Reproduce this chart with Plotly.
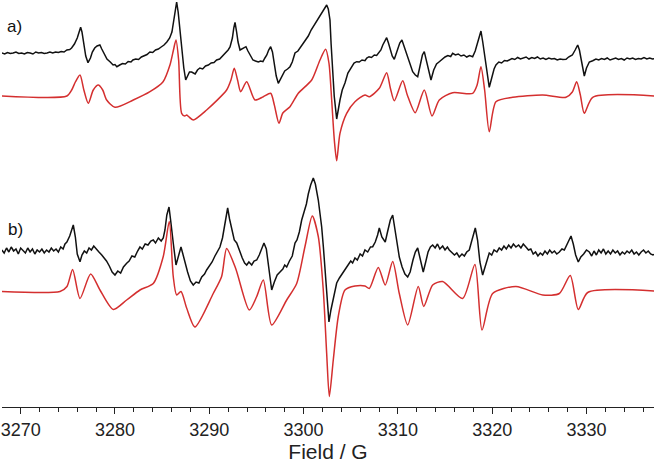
import plotly.graph_objects as go

# EPR spectra, field in G, intensity in arbitrary units (relative to each baseline)
a_exp = [
    (3268.0, 3), (3268.3, 2), (3268.6, 3.5), (3268.9, 2.5), (3269.2, 3), (3269.5, 4), (3269.8, 2.5),
    (3270.1, 3), (3270.4, 2), (3270.7, 3.5), (3271.0, 3), (3271.3, 2), (3271.6, 4), (3271.9, 3),
    (3272.2, 3.5), (3272.5, 2.5), (3272.8, 3), (3273.1, 4), (3273.4, 3), (3273.7, 4), (3274.0, 3.5),
    (3274.3, 4.5), (3274.6, 4), (3274.9, 6), (3275.2, 6.5), (3275.4, 8), (3275.7, 12), (3276.0, 18),
    (3276.2, 24), (3276.36, 28.7), (3276.5, 24), (3276.7, 11), (3276.9, 0), (3277.14, -6.7),
    (3277.4, -2), (3277.6, 4), (3277.85, 8), (3278.1, 10), (3278.4, 11), (3278.6, 7), (3278.9, 1),
    (3279.15, -3), (3279.5, -6), (3279.8, -9), (3280.0, -8.5), (3280.2, -10.7), (3280.5, -9),
    (3280.8, -7.5), (3281.1, -8), (3281.4, -5.5), (3281.7, -6), (3281.9, -4), (3282.2, -3),
    (3282.5, -3.5), (3282.8, -1), (3283.1, 0), (3283.4, 1.5), (3283.7, 4), (3284.0, 3.5), (3284.3, 6),
    (3284.6, 7), (3284.9, 9), (3285.2, 11), (3285.5, 14), (3285.8, 18), (3286.04, 24), (3286.25, 35),
    (3286.4, 46), (3286.54, 54), (3286.7, 44), (3286.85, 30), (3287.07, 6), (3287.3, -12),
    (3287.5, -24), (3287.7, -20), (3287.9, -16), (3288.13, -16), (3288.3, -17), (3288.5, -18),
    (3288.75, -14), (3289.0, -12), (3289.3, -13), (3289.6, -10), (3289.9, -9), (3290.2, -7),
    (3290.5, -6.5), (3290.78, -4), (3291.1, -3), (3291.4, 0), (3291.7, 2), (3292.0, 6), (3292.2, 9),
    (3292.45, 18), (3292.6, 28), (3292.73, 33.7), (3292.9, 24), (3293.05, 14), (3293.26, 6),
    (3293.5, 7), (3293.7, 8.5), (3293.89, 9.3), (3294.1, 5), (3294.4, -1), (3294.63, -4), (3294.9, -5),
    (3295.2, -6), (3295.45, -5), (3295.69, -5.7), (3295.9, -2), (3296.1, 1), (3296.3, 6),
    (3296.51, 9.3), (3296.7, 4), (3296.9, -9), (3297.1, -20), (3297.32, -27.3), (3297.5, -24),
    (3297.7, -19), (3298.0, -15), (3298.3, -13), (3298.56, -10.7), (3298.8, -6), (3299.09, 3),
    (3299.4, 5), (3299.7, 9), (3300.0, 13), (3300.15, 16), (3300.5, 20), (3300.8, 26), (3301.0, 29),
    (3301.21, 33), (3301.5, 37), (3301.7, 40), (3301.92, 43), (3302.2, 47), (3302.45, 51),
    (3302.62, 47), (3302.8, 36), (3302.92, 12), (3303.04, -10.7), (3303.25, -40), (3303.51, -63),
    (3303.7, -52), (3303.86, -44), (3304.1, -34), (3304.39, -27), (3304.7, -17), (3305.1, -10.7),
    (3305.35, -7), (3305.63, -5.7), (3305.9, -6), (3306.2, -4), (3306.51, -4.7), (3306.7, -2),
    (3306.94, -0.7), (3307.2, -1.5), (3307.5, 1), (3307.75, 0.5), (3308.0, 3), (3308.2, 6),
    (3308.4, 11), (3308.6, 15), (3308.81, 18.3), (3309.0, 13), (3309.2, 6), (3309.4, 0),
    (3309.62, -3.3), (3309.8, 2), (3310.0, 8), (3310.2, 13), (3310.43, 16), (3310.65, 10),
    (3310.9, 1), (3311.2, -7), (3311.57, -15.7), (3311.85, -19), (3312.1, -20.7), (3312.35, -10),
    (3312.6, 1), (3312.8, 4.3), (3313.0, -3), (3313.25, -14), (3313.51, -24), (3313.8, -14),
    (3314.1, -8), (3314.39, -5.7), (3314.7, -3), (3315.0, -1), (3315.3, 0.5), (3315.6, -0.5),
    (3315.81, 2.7), (3316.1, 1), (3316.4, 2), (3316.7, 0), (3317.0, 1), (3317.3, -1), (3317.6, 0.5),
    (3317.93, -0.7), (3318.2, 5), (3318.45, 13), (3318.65, 20), (3318.81, 25), (3319.0, 14),
    (3319.2, 1), (3319.45, -18), (3319.69, -31.3), (3319.95, -22), (3320.2, -13), (3320.4, -9),
    (3320.7, -6), (3321.0, -7), (3321.3, -4.5), (3321.6, -5), (3321.81, -4), (3322.1, -2.5),
    (3322.4, -3.5), (3322.7, -1.5), (3323.0, -3), (3323.3, -2), (3323.6, -1), (3323.9, -3),
    (3324.2, -1.5), (3324.5, -2.5), (3324.8, -1), (3325.1, -3), (3325.4, -2), (3325.7, -3.5),
    (3326.0, -2), (3326.3, -3), (3326.6, -2.5), (3326.9, -4), (3327.2, -3), (3327.5, -3.5),
    (3327.83, -3.3), (3328.1, -1), (3328.5, 1), (3328.8, 6), (3329.07, 11), (3329.25, 6),
    (3329.4, -2), (3329.6, -14), (3329.77, -20), (3330.0, -12), (3330.3, -6), (3330.66, -4.7),
    (3331.0, -3), (3331.3, -4), (3331.6, -2.5), (3331.9, -3.5), (3332.2, -2), (3332.5, -4),
    (3332.8, -3), (3333.1, -2), (3333.4, -3.5), (3333.7, -2.5), (3334.0, -4), (3334.3, -2),
    (3334.6, -3), (3334.9, -2), (3335.2, -3.5), (3335.5, -2.5), (3335.8, -3), (3336.1, -1.5),
    (3336.4, -3), (3336.7, -2), (3337.0, -3), (3337.3, -2.5),
]

a_sim = [
    (3268.0, 0), (3274.9, 0), (3275.41, 6), (3275.8, 14), (3276.29, 21), (3276.7, 6), (3277.17, -7.3),
    (3277.7, 6), (3278.23, 11), (3278.7, 6), (3279.12, -4), (3280.0, -11.3), (3281.94, -4),
    (3283.71, 4.3), (3285.1, 14.3), (3285.83, 31), (3286.2, 46), (3286.47, 56), (3286.75, 36),
    (3287.07, -17.3), (3287.4, -20), (3287.6, -19), (3287.8, -20.5), (3288.3, -24), (3289.72, -14),
    (3291.84, 6), (3292.3, 16), (3292.65, 27.7), (3293.0, 16), (3293.33, 4.3), (3293.97, 14.3),
    (3294.85, -4), (3295.73, -0.7), (3296.51, 2.7), (3296.9, -9), (3297.39, -27.3), (3297.8, -17),
    (3298.56, -10.7), (3299.44, 2.7), (3300.86, 16), (3301.74, 36), (3302.34, 46.7), (3302.69, 33),
    (3302.98, -4), (3303.26, -44), (3303.51, -64.7), (3303.86, -37.3), (3304.57, -17.3),
    (3305.45, -5.7), (3306.51, 1), (3306.97, -0.7), (3308.03, 7.7), (3308.81, 23.3), (3309.2, 8),
    (3309.62, -4.7), (3310.51, 15.3), (3311.0, 1), (3311.84, -16.7), (3312.8, 6), (3313.62, -20),
    (3314.39, -4), (3315.81, 3.3), (3317.93, 2.7), (3318.4, 11), (3318.81, 29.3), (3319.2, 6),
    (3319.69, -35.7), (3320.4, -5.7), (3322.17, -1.3), (3325.36, 1), (3327.83, -1.3), (3328.5, 4),
    (3328.96, 14.3), (3329.35, 1), (3329.77, -17.3), (3330.66, -1.3), (3337.3, 0),
]

b_exp = [
    (3268.0, 2), (3268.25, -1), (3268.5, 4), (3268.75, 0), (3269.0, 5), (3269.25, 1), (3269.5, 3),
    (3269.75, -2), (3270.0, 4), (3270.25, 1), (3270.5, -1), (3270.75, 4), (3271.0, 0), (3271.25, 3),
    (3271.5, -2), (3271.75, 2), (3272.0, 0), (3272.25, 3), (3272.5, -1), (3272.75, 2), (3273.0, 0),
    (3273.25, 4), (3273.5, 1), (3273.75, 3), (3274.0, 0), (3274.25, 5), (3274.5, 3), (3274.7, 8),
    (3274.9, 10), (3275.2, 16), (3275.4, 22), (3275.58, 27), (3275.8, 15), (3276.0, -2),
    (3276.29, -9.7), (3276.5, -3), (3276.75, 1), (3277.0, -1), (3277.25, 4), (3277.5, 2),
    (3277.75, 6), (3278.0, 3), (3278.3, 0), (3278.6, -3), (3278.8, -5), (3279.1, -9), (3279.4, -14),
    (3279.7, -20), (3280.0, -23), (3280.3, -19), (3280.6, -21), (3280.9, -15), (3281.24, -11.3),
    (3281.5, -9), (3281.8, -4), (3282.1, -5), (3282.4, 1), (3282.65, 5), (3282.9, 3), (3283.2, 8),
    (3283.5, 7), (3283.8, 11), (3284.06, 12), (3284.3, 9), (3284.6, 14), (3284.9, 11), (3285.12, 14),
    (3285.3, 22), (3285.5, 37), (3285.73, 45), (3285.9, 32), (3286.05, 16), (3286.18, 9),
    (3286.47, -13), (3286.75, -4), (3287.0, 5), (3287.2, -2), (3287.4, -10), (3287.7, -20),
    (3288.0, -29), (3288.3, -33), (3288.6, -30), (3288.9, -31), (3289.2, -25), (3289.5, -22),
    (3289.72, -18), (3290.0, -14), (3290.3, -10), (3290.6, -4), (3290.9, 2), (3291.13, 5),
    (3291.4, 14), (3291.6, 25), (3291.8, 36), (3291.95, 44), (3292.15, 33), (3292.4, 22),
    (3292.65, 12), (3292.91, 9), (3293.2, 1), (3293.5, -6), (3293.75, -11), (3293.97, -13),
    (3294.2, -10), (3294.5, -13), (3294.75, -9), (3295.03, -8), (3295.3, -3), (3295.55, 3),
    (3295.8, 9), (3296.05, 3), (3296.3, -15), (3296.62, -38), (3296.9, -30), (3297.2, -23),
    (3297.5, -20), (3297.8, -17), (3298.0, -13), (3298.21, -15), (3298.5, -9), (3298.8, -4),
    (3299.09, 9), (3299.3, 12), (3299.55, 20), (3299.8, 32), (3300.05, 40), (3300.3, 48),
    (3300.5, 58), (3300.75, 67), (3301.03, 74), (3301.25, 68), (3301.56, 52), (3301.75, 40),
    (3301.92, 25), (3302.1, 5), (3302.27, -18), (3302.5, -48), (3302.69, -70), (3302.9, -58),
    (3303.15, -48), (3303.35, -38), (3303.51, -31), (3303.8, -26), (3304.1, -22), (3304.39, -18),
    (3304.7, -14), (3305.0, -9), (3305.2, -11), (3305.45, -6), (3305.7, -8), (3306.0, -2),
    (3306.25, -4), (3306.51, 2), (3306.8, 0), (3307.1, 5), (3307.33, 5.3), (3307.6, 10),
    (3307.85, 17), (3308.03, 24), (3308.3, 15), (3308.5, 12), (3308.66, 10), (3308.9, 20),
    (3309.2, 32), (3309.45, 37), (3309.7, 22), (3309.95, 5), (3310.15, -5), (3310.45, -15),
    (3310.75, -22), (3311.04, -25), (3311.3, -20), (3311.6, -8), (3311.85, 0), (3312.1, 4),
    (3312.4, -8), (3312.69, -20), (3312.95, -10), (3313.2, 0), (3313.45, 5), (3313.69, 7),
    (3313.95, 4), (3314.2, 8), (3314.45, 3), (3314.75, 6), (3315.0, 2), (3315.25, 5), (3315.45, 2),
    (3315.7, 0), (3316.0, -3), (3316.25, -1), (3316.51, -5), (3316.8, -2), (3317.05, -4),
    (3317.3, 0), (3317.57, 2), (3317.8, 10), (3318.0, 18), (3318.21, 24), (3318.45, 12),
    (3318.7, -10), (3318.99, -23), (3319.25, -15), (3319.45, -8), (3319.69, -1), (3319.95, -3),
    (3320.2, 2), (3320.5, 0), (3320.75, 4), (3321.0, 2), (3321.25, 6), (3321.5, 3), (3321.75, 7),
    (3322.0, 4), (3322.25, 8), (3322.52, 5), (3322.8, 7), (3323.05, 4), (3323.3, 8), (3323.58, 5),
    (3323.85, 2), (3324.1, 3), (3324.35, -2), (3324.6, 0), (3324.85, -4), (3325.1, -1),
    (3325.35, -3), (3325.6, 1), (3325.85, -2), (3326.1, 2), (3326.35, -1), (3326.6, 1),
    (3326.85, -2), (3327.12, 0), (3327.4, 3), (3327.65, 2), (3327.9, 7), (3328.1, 10),
    (3328.36, 16), (3328.6, 8), (3328.85, -3), (3329.13, -10), (3329.4, -5), (3329.7, -2),
    (3330.0, 2), (3330.3, 0), (3330.55, -4), (3330.8, 1), (3331.05, -3), (3331.3, 2), (3331.55, -1),
    (3331.8, 3), (3332.05, -2), (3332.3, 1), (3332.55, -2), (3332.8, 2), (3333.05, -1), (3333.3, 1),
    (3333.55, -3), (3333.8, 0), (3334.05, -2), (3334.3, 1), (3334.55, -1), (3334.8, 2),
    (3335.05, -2), (3335.3, 0), (3335.55, -3), (3335.8, 0), (3336.05, 2), (3336.3, -1),
    (3336.55, 1), (3336.8, -2), (3337.05, -3), (3337.3, -2),
]

b_sim = [
    (3268.0, 0), (3274.17, 0), (3274.91, 5), (3275.51, 22), (3276.29, -7), (3277.42, 17.5),
    (3278.41, 1.5), (3279.82, -18), (3281.24, -8.5), (3282.65, 1.5), (3284.06, 8), (3285.12, 35),
    (3285.76, 70), (3286.18, 15), (3286.54, -3.5), (3287.0, 0), (3287.6, -16.5), (3288.48, -35.5),
    (3290.42, -2), (3291.31, 15), (3291.84, 43), (3292.8, 23), (3294.24, -18.5), (3295.03, -5),
    (3295.73, 11.5), (3296.62, -33.5), (3298.21, -8.5), (3299.27, 8), (3300.15, 45), (3300.92, 75.5),
    (3301.56, 55), (3302.09, 1.5), (3302.45, -62), (3302.73, -105), (3303.15, -68.5),
    (3303.68, -25), (3304.39, 1.5), (3305.45, 5.5), (3306.51, 5.5), (3306.97, 3), (3307.92, 24),
    (3308.66, 6.5), (3309.45, 30), (3310.15, -2), (3311.04, -33.5), (3312.16, 5), (3312.74, -15),
    (3313.69, 6.5), (3314.75, 10), (3316.87, -7), (3318.17, 27), (3318.92, -38.5), (3320.05, -2),
    (3322.52, 5), (3325.36, -3.5), (3327.12, -2), (3328.28, 16), (3329.13, -18), (3330.13, -1),
    (3337.3, 0.5),
]

# vertical offsets of the stacked spectra
offsets = {"a_exp": 351, "a_sim": 311, "b_exp": 155, "b_sim": 115.5}

traces = [
    ("a_exp", a_exp, "#111111", "linear"),
    ("a_sim", a_sim, "#d42f2f", "spline"),
    ("b_exp", b_exp, "#111111", "linear"),
    ("b_sim", b_sim, "#d42f2f", "spline"),
]

fig = go.Figure()
for name, pts, col, shape in traces:
    x = [p[0] for p in pts]
    y = [p[1] + offsets[name] for p in pts]
    line = dict(color=col, width=1.5, shape=shape)
    if shape == "spline":
        line["smoothing"] = 0.7
    fig.add_trace(go.Scatter(x=x, y=y, mode="lines", line=line, showlegend=False, hoverinfo="skip"))

fig.add_annotation(text="a)", x=0.019, y=0.934, xref="paper", yref="paper", showarrow=False,
                   font=dict(size=17, color="#111"), xanchor="center", yanchor="middle")
fig.add_annotation(text="b)", x=0.020, y=0.437, xref="paper", yref="paper", showarrow=False,
                   font=dict(size=17, color="#111"), xanchor="center", yanchor="middle")

fig.update_layout(
    width=656, height=465,
    margin=dict(l=2, r=2, t=0, b=58),
    plot_bgcolor="white", paper_bgcolor="white",
    font=dict(family="Liberation Sans, Arial, sans-serif", color="#222"),
    xaxis=dict(
        range=[3268.02, 3337.16], showgrid=False, zeroline=False,
        showline=True, linecolor="#222", linewidth=1.2,
        ticks="outside", tick0=3270, dtick=10, ticklen=6, tickwidth=1.2, tickcolor="#222",
        minor=dict(dtick=2, tick0=3270, ticks="outside", ticklen=4, tickwidth=1, tickcolor="#222"),
        tickfont=dict(size=18),
        title=dict(text="Field / G", font=dict(size=21), standoff=4),
    ),
    yaxis=dict(range=[0, 407], visible=False),
)

fig.write_html("out.html", config={"displayModeBar": False},
               post_script="document.body.style.margin='0';document.body.style.overflow='hidden';")
